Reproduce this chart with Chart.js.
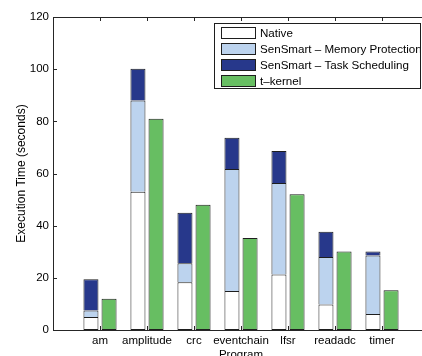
<!DOCTYPE html>
<html>
<head>
<meta charset="utf-8">
<script src="https://cdn.jsdelivr.net/npm/chart.js@4/dist/chart.umd.min.js"></script>
<style>
  html, body { margin: 0; padding: 0; background: #fff; overflow: hidden; }
  body { width: 422px; height: 356px; position: relative; }
  #wrap { position: absolute; left: 0; top: 0; width: 440px; height: 372px; }
</style>
</head>
<body>
<div id="wrap"><canvas id="c" width="440" height="372"></canvas></div>
<script>
// Programs measured
const categories = ['am', 'amplitude', 'crc', 'eventchain', 'lfsr', 'readadc', 'timer'];

// Execution time segments (seconds); SenSmart bars are stacked
const nativeTime    = [5.0, 53.0, 18.3, 15.0, 21.3, 9.8, 6.1];
const memProtTime   = [2.5, 35.0, 7.3, 46.7, 35.1, 18.2, 22.5];
const taskSchedTime = [12.0, 12.2, 19.4, 12.0, 12.2, 9.7, 1.5];
const tkernelTime   = [12.0, 81.0, 48.0, 35.3, 52.0, 30.1, 15.2];

const yTicks = [0, 20, 40, 60, 80, 100, 120];

// empty slots at both ends leave room like the original axes
const labels = [''].concat(categories, ['']);
const pad = arr => [null].concat(arr, [null]);

const FONT = '"Liberation Sans", Arial, Helvetica, sans-serif';
const AXIS = '#262626';
const EDGE = '#1e1e1e';

const axesPlugin = {
  id: 'matlabAxes',
  afterDraw(chart) {
    const { ctx, chartArea: a, scales: { x, y } } = chart;
    ctx.save();
    ctx.strokeStyle = AXIS;
    ctx.lineWidth = 1;
    // top border
    ctx.beginPath();
    ctx.moveTo(a.left, a.top + 0.5);
    ctx.lineTo(a.right, a.top + 0.5);
    ctx.stroke();
    // inward ticks on the y axis
    ctx.beginPath();
    yTicks.forEach(v => {
      const py = Math.round(y.getPixelForValue(v)) + 0.5;
      ctx.moveTo(a.left, py);
      ctx.lineTo(a.left + 4, py);
    });
    // inward ticks at the categories, top and bottom
    categories.forEach((c, i) => {
      const px = Math.round(x.getPixelForValue(i + 1)) + 0.5;
      ctx.moveTo(px, a.top);
      ctx.lineTo(px, a.top + 4);
      ctx.moveTo(px, a.bottom);
      ctx.lineTo(px, a.bottom - 4);
    });
    ctx.stroke();

    // legend box
    const lx = 214.5, ly = 23.5, lw = 206, lh = 65;
    ctx.fillStyle = '#fff';
    ctx.fillRect(lx, ly, lw, lh);
    ctx.save();
    ctx.beginPath();
    ctx.rect(lx, ly, lw, lh);
    ctx.clip();
    ctx.font = '11.6px ' + FONT;
    ctx.textBaseline = 'middle';
    chart.data.datasets.forEach((ds, i) => {
      const cy = 33 + i * 16;
      ctx.fillStyle = ds.backgroundColor;
      ctx.fillRect(221.5, cy - 5.5, 34, 11);
      ctx.strokeStyle = EDGE;
      ctx.strokeRect(221.5, cy - 5.5, 34, 11);
      ctx.fillStyle = '#000';
      ctx.fillText(ds.label, 260, cy + 0.5);
    });
    ctx.restore();
    ctx.strokeStyle = EDGE;
    ctx.strokeRect(lx, ly, lw, lh);
    ctx.restore();
  }
};

new Chart(document.getElementById('c'), {
  type: 'bar',
  data: {
    labels: labels,
    datasets: [
      { label: 'Native', data: pad(nativeTime), stack: 'sensmart', backgroundColor: '#ffffff', borderSkipped: false },
      { label: 'SenSmart \u2013 Memory Protection', data: pad(memProtTime), stack: 'sensmart', backgroundColor: '#bcd3ee', borderSkipped: 'start' },
      { label: 'SenSmart \u2013 Task Scheduling', data: pad(taskSchedTime), stack: 'sensmart', backgroundColor: '#27388b', borderSkipped: 'start' },
      { label: 't\u2013kernel', data: pad(tkernelTime), stack: 'tkernel', backgroundColor: '#67be62', borderSkipped: false }
    ].map(d => Object.assign(d, {
      borderColor: EDGE,
      borderWidth: 1,
      categoryPercentage: 0.77,
      barPercentage: 0.83
    }))
  },
  options: {
    responsive: false,
    animation: false,
    devicePixelRatio: 1,
    layout: { padding: { top: 17, right: 11, left: 0, bottom: 0 } },
    plugins: { legend: { display: false }, tooltip: { enabled: false } },
    scales: {
      x: {
        stacked: true,
        offset: false,
        grid: { display: false, drawTicks: false },
        border: { display: true, color: AXIS, width: 1 },
        ticks: { color: '#000', font: { family: FONT, size: 11.5 }, padding: 4, maxRotation: 0, autoSkip: false },
        title: { display: true, text: 'Program', color: '#000', font: { family: FONT, size: 11.5 }, padding: { top: 0, bottom: 10 } },
        afterFit(s) { s.height = 42; }
      },
      y: {
        stacked: true,
        min: 0,
        max: 120,
        afterBuildTicks(s) { s.ticks = yTicks.map(v => ({ value: v })); },
        grid: { display: false, drawTicks: false },
        border: { display: true, color: AXIS, width: 1 },
        ticks: { color: '#000', font: { family: FONT, size: 11.5 }, padding: 4 },
        title: { display: true, text: 'Execution Time (seconds)', color: '#000', font: { family: FONT, size: 12 }, padding: { top: 14, bottom: 0 } },
        afterFit(s) { s.width = 53; }
      }
    }
  },
  plugins: [axesPlugin]
});
</script>
</body>
</html>
